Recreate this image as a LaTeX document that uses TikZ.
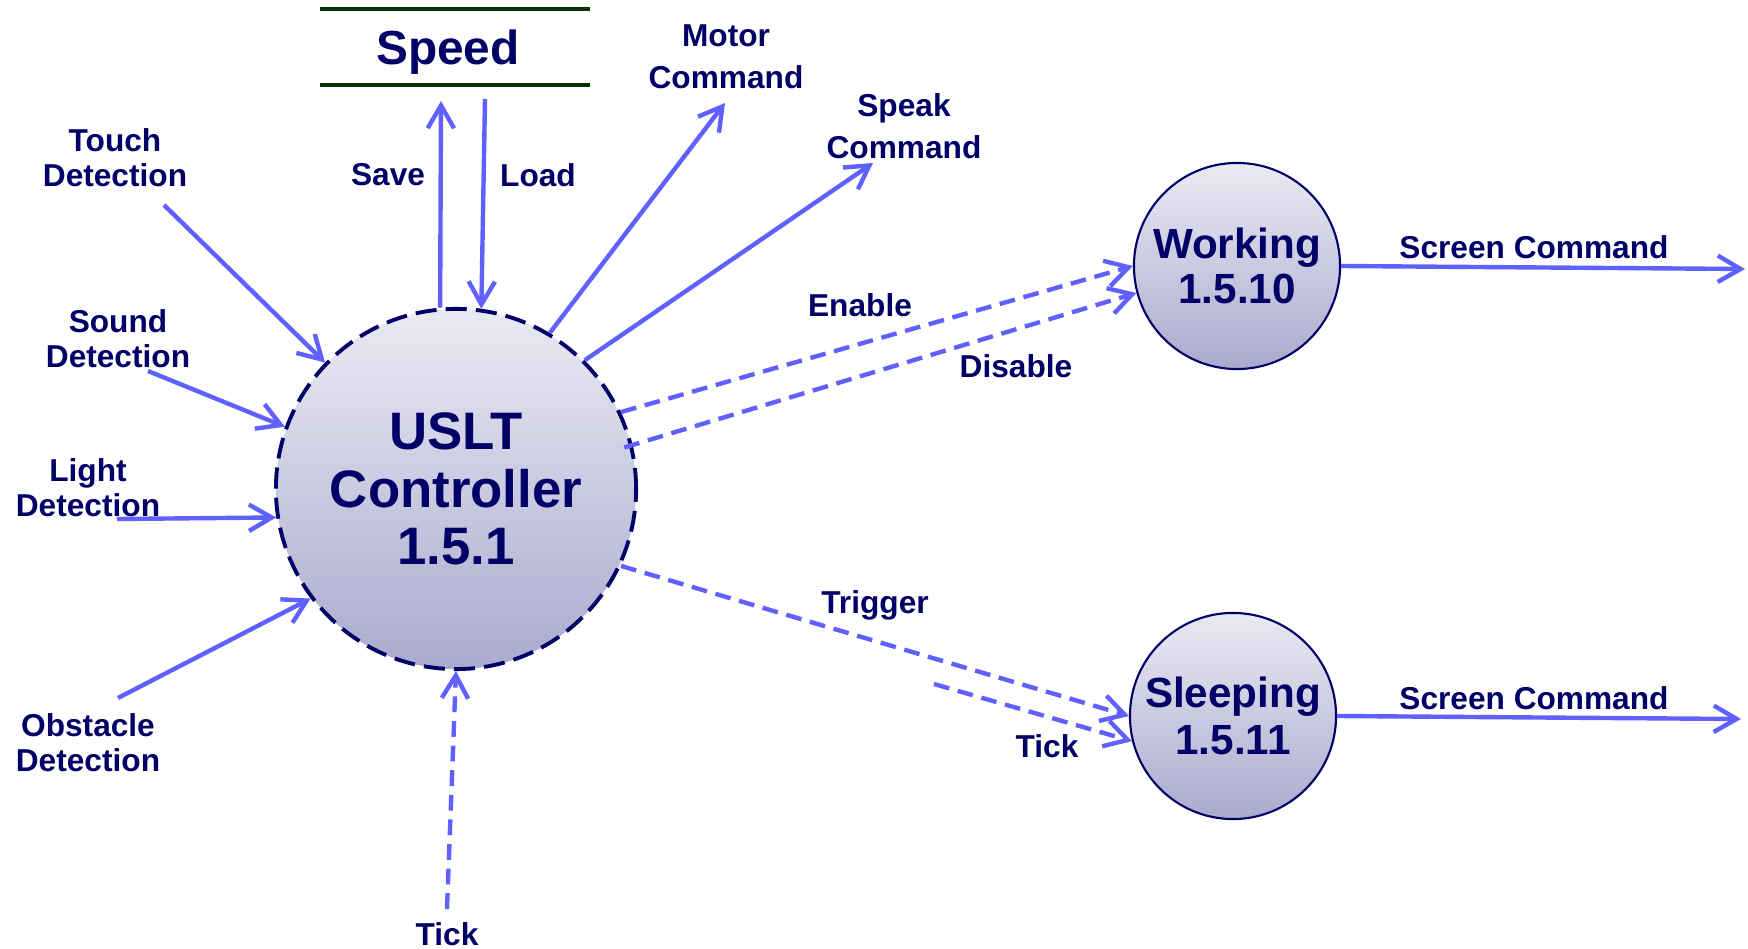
\documentclass[tikz,border=0pt]{standalone}
\usepackage{fontspec}
\setmainfont{Liberation Sans}
\usetikzlibrary{arrows.meta}
\definecolor{flowblue}{RGB}{96,96,255}
\definecolor{navy}{RGB}{0,0,102}
\definecolor{storegreen}{RGB}{0,51,0}
\definecolor{bubtop}{RGB}{234,234,244}
\definecolor{bubbot}{RGB}{170,170,206}

\begin{document}
\begin{tikzpicture}[x=0.01cm,y=-0.01cm,
  flow/.style={draw=flowblue, line width=1.25pt, -{Straight Barb[length=6.5pt,width=7.5pt]}},
  dflow/.style={flow, dash pattern=on 4.5pt off 2.5pt},
  lbl/.style={font=\bfseries\fontsize{9}{10}\selectfont, text=navy, align=center, inner sep=0pt},
  bubble/.style={circle, draw=navy, line width=0.6pt, top color=bubtop, bottom color=bubbot,
    text=navy, align=center, inner sep=0pt, minimum size=2.06cm}]
\useasboundingbox (0,0) rectangle (1748,949);

% processes
\node[bubble, minimum size=3.6cm, line width=1.1pt, dash pattern=on 6pt off 2.6pt,
  font=\bfseries\fontsize{15}{16.4}\selectfont] (uslt) at (456,489) {USLT\\Controller\\1.5.1};
\node[bubble, font=\bfseries\fontsize{12}{12.8}\selectfont] (working) at (1237,266) {Working\\1.5.10};
\node[bubble, font=\bfseries\fontsize{12}{13.4}\selectfont] (sleeping) at (1233,716) {Sleeping\\1.5.11};

% data store
\node[font=\bfseries\fontsize{13.6}{14}\selectfont, text=navy, inner sep=0pt, text depth=0pt,
  minimum width=2.69cm, minimum height=0.74cm] (speed) at (448,47) {Speed};
\draw[storegreen, line width=1.2pt]
  ([xshift=0.07cm]speed.north west) -- ([xshift=0.07cm]speed.north east)
  ([xshift=0.07cm]speed.south west) -- ([xshift=0.07cm]speed.south east);

% labels
\node[lbl] (touchlbl) at (115,158) {Touch\\Detection};
\node[lbl] (soundlbl) at (118,339) {Sound\\Detection};
\node[lbl] (lightlbl) at (88,488) {Light\\Detection};
\node[lbl] (obstaclelbl) at (88,743) {Obstacle\\Detection};
\node[lbl, font=\bfseries\fontsize{9}{12}\selectfont] (motorlbl) at (726,57) {Motor\\Command};
\node[lbl, font=\bfseries\fontsize{9}{12}\selectfont] (speaklbl) at (904,126) {Speak\\Command};
\node[lbl] (savelbl) at (388,175) {Save};
\node[lbl] (loadlbl) at (538,175) {Load};
\node[lbl] (enablelbl) at (860,305) {Enable};
\node[lbl] (disablelbl) at (1016,366) {Disable};
\node[lbl] (triggerlbl) at (875,605) {Trigger};
\node[lbl] (ticklbl) at (1047,746) {Tick};
\node[lbl] (tickbotlbl) at (447,934) {Tick};
\node[lbl] (scrwlbl) at (1534,247) {Screen Command};
\node[lbl] (scrslbl) at (1534,698) {Screen Command};

% free ends
\coordinate (touchsrc) at (164,205);
\coordinate (soundsrc) at (148,371);
\coordinate (lightsrc) at (117,519);
\coordinate (obstaclesrc) at (118,698);
\coordinate (motorend) at (725,103);
\coordinate (speakend) at (873,163);
\coordinate (saveend) at (441,101);
\coordinate (loadsrc) at (485,99);
\coordinate (ticksrc) at (934,684);
\coordinate (tickbotsrc) at (447,909);
\coordinate (scrwend) at (1745,269);
\coordinate (scrsend) at (1741,719);

% flows
\draw[flow] (touchsrc) -- (uslt.136);
\draw[flow] (soundsrc) -- (uslt.160);
\draw[flow] (lightsrc) -- (uslt.189);
\draw[flow] (obstaclesrc) -- (uslt.217);
\draw[flow] (uslt.95) -- (saveend);
\draw[flow] (loadsrc) -- (uslt.82);
\draw[flow] (uslt.59) -- (motorend);
\draw[flow] (uslt.45) -- (speakend);
\draw[dflow] (uslt.25) -- (working.180);
\draw[dflow, shorten <=-2.5pt] (uslt.14) -- (working.195);
\draw[dflow] (uslt.-25) -- (sleeping.180);
\draw[dflow] (ticksrc) -- (sleeping.194);
\draw[dflow] (tickbotsrc) -- (uslt.-90);
\draw[flow] (working.0) -- (scrwend);
\draw[flow] (sleeping.0) -- (scrsend);
\end{tikzpicture}
\end{document}
